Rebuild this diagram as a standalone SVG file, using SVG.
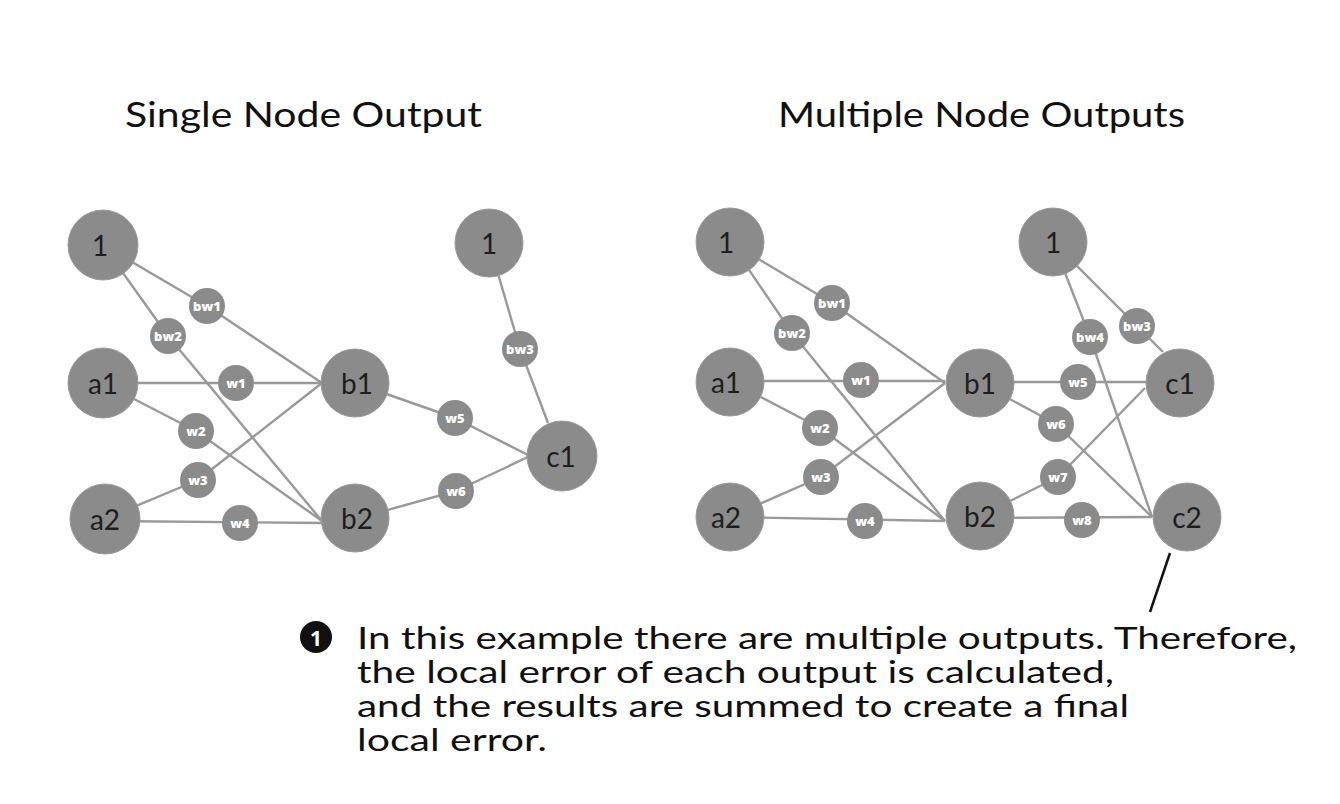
<svg xmlns="http://www.w3.org/2000/svg" width="1340" height="804" viewBox="0 0 1340 804">
<style>
.big{fill:#8b8b8b;stroke:#9a9a9a;stroke-width:1}
.sm{fill:#8b8b8b}
.bl{font-family:Lato,"Open Sans",sans-serif;font-size:28px;fill:#1e1e1e;text-anchor:middle;dominant-baseline:central}
.sl{font-family:"Open Sans",Lato,sans-serif;font-size:13px;font-weight:800;fill:#fff;text-anchor:middle;dominant-baseline:central}
.ttl{font-family:Lato,"Open Sans",sans-serif;font-size:35px;fill:#111}
.note{font-family:Lato,"Open Sans",sans-serif;font-size:30px;fill:#111}
#connectors line{stroke:#999;stroke-width:2.4}
</style>
<rect width="1340" height="804" fill="#fff"/>
<text class="ttl" x="125" y="127" textLength="357" lengthAdjust="spacingAndGlyphs">Single Node Output</text>
<text class="ttl" x="778" y="127" textLength="407" lengthAdjust="spacingAndGlyphs">Multiple Node Outputs</text>
<g id="connectors">
<line x1="103" y1="245" x2="207" y2="306"/><line x1="207" y1="306" x2="322" y2="383"/>
<line x1="103" y1="245" x2="168" y2="336"/><line x1="168" y1="336" x2="322" y2="521"/>
<line x1="103" y1="383" x2="322" y2="383"/>
<line x1="103" y1="383" x2="196" y2="431"/><line x1="196" y1="431" x2="322" y2="521"/>
<line x1="105" y1="519" x2="198" y2="480"/><line x1="198" y1="480" x2="322" y2="383"/>
<line x1="105" y1="521" x2="322" y2="523"/>
<line x1="355" y1="383" x2="455" y2="418"/><line x1="455" y1="418" x2="530" y2="456"/>
<line x1="355" y1="519" x2="456" y2="491"/><line x1="456" y1="491" x2="530" y2="456"/>
<line x1="489" y1="243" x2="520" y2="349"/><line x1="520" y1="349" x2="548" y2="423"/>
<line x1="730" y1="242" x2="832" y2="303"/><line x1="832" y1="303" x2="945" y2="383"/>
<line x1="730" y1="242" x2="792" y2="333"/><line x1="792" y1="333" x2="945" y2="521"/>
<line x1="730" y1="381" x2="945" y2="381"/>
<line x1="730" y1="381" x2="820" y2="428"/><line x1="820" y1="428" x2="945" y2="521"/>
<line x1="730" y1="517" x2="821" y2="477"/><line x1="821" y1="477" x2="945" y2="383"/>
<line x1="730" y1="517" x2="945" y2="521"/>
<line x1="1053" y1="242" x2="1090" y2="337"/><line x1="1090" y1="337" x2="1152" y2="517"/>
<line x1="1053" y1="242" x2="1137" y2="326"/><line x1="1137" y1="326" x2="1163" y2="352"/>
<line x1="980" y1="382" x2="1146" y2="382"/>
<line x1="980" y1="383" x2="1056" y2="424"/><line x1="1056" y1="424" x2="1152" y2="517"/>
<line x1="980" y1="516" x2="1058" y2="477"/><line x1="1058" y1="477" x2="1145" y2="388"/>
<line x1="980" y1="518" x2="1152" y2="517"/>
</g>
<g id="L-bias1"><circle class="big" cx="103" cy="245" r="35"/><text class="bl" x="100" y="245">1</text></g>
<g id="L-a1"><circle class="big" cx="103" cy="383" r="35"/><text class="bl" x="103" y="383">a1</text></g>
<g id="L-a2"><circle class="big" cx="105" cy="519" r="35"/><text class="bl" x="105" y="519">a2</text></g>
<g id="L-b1"><circle class="big" cx="355" cy="383" r="34"/><text class="bl" x="357" y="383">b1</text></g>
<g id="L-b2"><circle class="big" cx="355" cy="518" r="34"/><text class="bl" x="357" y="518">b2</text></g>
<g id="L-bias2"><circle class="big" cx="489" cy="243" r="34"/><text class="bl" x="489" y="243">1</text></g>
<g id="L-c1"><circle class="big" cx="562" cy="456" r="35"/><text class="bl" x="561" y="456">c1</text></g>
<g id="L-bw1"><circle class="sm" cx="207" cy="306" r="18"/><text class="sl" x="207" y="306">bw1</text></g>
<g id="L-bw2"><circle class="sm" cx="168" cy="336" r="18"/><text class="sl" x="168" y="336">bw2</text></g>
<g id="L-w1"><circle class="sm" cx="236" cy="383" r="18"/><text class="sl" x="236" y="383">w1</text></g>
<g id="L-w2"><circle class="sm" cx="196" cy="431" r="18"/><text class="sl" x="196" y="431">w2</text></g>
<g id="L-w3"><circle class="sm" cx="198" cy="480" r="18"/><text class="sl" x="198" y="480">w3</text></g>
<g id="L-w4"><circle class="sm" cx="240" cy="523" r="18"/><text class="sl" x="240" y="523">w4</text></g>
<g id="L-bw3"><circle class="sm" cx="520" cy="349" r="18"/><text class="sl" x="520" y="349">bw3</text></g>
<g id="L-w5"><circle class="sm" cx="455" cy="418" r="18"/><text class="sl" x="455" y="418">w5</text></g>
<g id="L-w6"><circle class="sm" cx="456" cy="491" r="18"/><text class="sl" x="456" y="491">w6</text></g>
<g id="R-bias1"><circle class="big" cx="730" cy="242" r="34"/><text class="bl" x="726" y="242">1</text></g>
<g id="R-a1"><circle class="big" cx="730" cy="382" r="34"/><text class="bl" x="726" y="382">a1</text></g>
<g id="R-a2"><circle class="big" cx="730" cy="517" r="34"/><text class="bl" x="726" y="517">a2</text></g>
<g id="R-b1"><circle class="big" cx="980" cy="383" r="34"/><text class="bl" x="980" y="383">b1</text></g>
<g id="R-b2"><circle class="big" cx="980" cy="516" r="34"/><text class="bl" x="980" y="516">b2</text></g>
<g id="R-bias2"><circle class="big" cx="1053" cy="242" r="34"/><text class="bl" x="1053" y="242">1</text></g>
<g id="R-c1"><circle class="big" cx="1180" cy="383" r="34"/><text class="bl" x="1180" y="383">c1</text></g>
<g id="R-c2"><circle class="big" cx="1187" cy="517" r="34"/><text class="bl" x="1187" y="517">c2</text></g>
<g id="R-bw1"><circle class="sm" cx="832" cy="303" r="18"/><text class="sl" x="832" y="303">bw1</text></g>
<g id="R-bw2"><circle class="sm" cx="792" cy="333" r="18"/><text class="sl" x="792" y="333">bw2</text></g>
<g id="R-w1"><circle class="sm" cx="861" cy="380" r="18"/><text class="sl" x="861" y="380">w1</text></g>
<g id="R-w2"><circle class="sm" cx="820" cy="428" r="18"/><text class="sl" x="820" y="428">w2</text></g>
<g id="R-w3"><circle class="sm" cx="821" cy="477" r="18"/><text class="sl" x="821" y="477">w3</text></g>
<g id="R-w4"><circle class="sm" cx="865" cy="521" r="18"/><text class="sl" x="865" y="521">w4</text></g>
<g id="R-bw4"><circle class="sm" cx="1090" cy="337" r="18"/><text class="sl" x="1090" y="337">bw4</text></g>
<g id="R-bw3"><circle class="sm" cx="1137" cy="326" r="18"/><text class="sl" x="1137" y="326">bw3</text></g>
<g id="R-w5"><circle class="sm" cx="1078" cy="382" r="18"/><text class="sl" x="1078" y="382">w5</text></g>
<g id="R-w6"><circle class="sm" cx="1056" cy="424" r="18"/><text class="sl" x="1056" y="424">w6</text></g>
<g id="R-w7"><circle class="sm" cx="1058" cy="477" r="18"/><text class="sl" x="1058" y="477">w7</text></g>
<g id="R-w8"><circle class="sm" cx="1082" cy="520" r="18"/><text class="sl" x="1082" y="520">w8</text></g>
<g id="note">
<line x1="1170" y1="553" x2="1150" y2="612" stroke="#111" stroke-width="2.5"/>
<circle cx="316" cy="637" r="16" fill="#111"/>
<text x="316" y="638" font-family="'Open Sans',Lato,sans-serif" font-size="21" font-weight="bold" fill="#fff" text-anchor="middle" dominant-baseline="central">1</text>
<text class="note" x="357" y="649" textLength="940" lengthAdjust="spacingAndGlyphs">In this example there are multiple outputs. Therefore,</text>
<text class="note" x="357" y="683" textLength="757" lengthAdjust="spacingAndGlyphs">the local error of each output is calculated,</text>
<text class="note" x="357" y="717" textLength="772" lengthAdjust="spacingAndGlyphs">and the results are summed to create a final</text>
<text class="note" x="357" y="751" textLength="190" lengthAdjust="spacingAndGlyphs">local error.</text>
</g>
</svg>
